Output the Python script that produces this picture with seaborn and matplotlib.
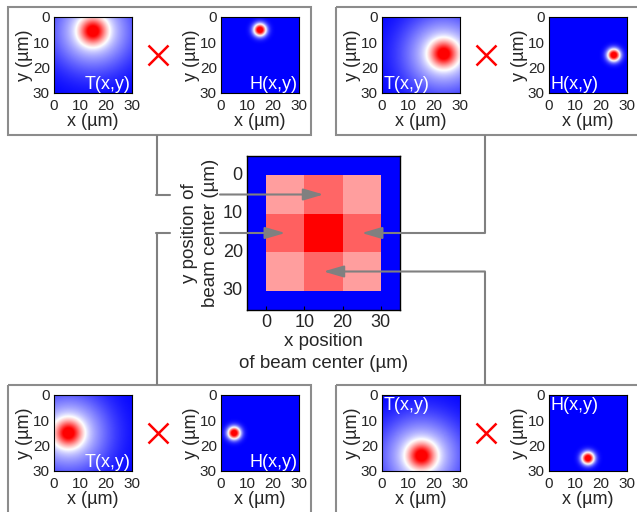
import numpy as np
import pandas as pd
import seaborn as sns
import matplotlib.pyplot as plt
from matplotlib.patches import Rectangle

sns.set_style("white")
plt.rcParams["font.family"] = ["Liberation Sans", "DejaVu Sans"]

# ---- data ----
# beam centre (um) for the four examples: top-left, top-right, bottom-left, bottom-right
beam_x = [15, 25, 5, 15]
beam_y = [5, 15, 15, 25]
# centre of the temperature spot T(x,y) (pushed a bit inward near the edge)
temp_x = [15, 23.5, 5.5, 15]
temp_y = [5.5, 14.5, 15, 24]
# corner where the T / H labels sit
label_spot = ["br", "bl", "br", "tl"]

# scanned map, 3x3 beam positions (colour value on bwr scale)
scan_vals = [[0.69, 0.80, 0.69],
             [0.81, 1.00, 0.81],
             [0.69, 0.80, 0.69]]
ticks = [0, 10, 20, 30]
cell = 10  # um per scan step

# spot shapes (amplitude, sigma in um)
t_core = (0.63, 3.45)
t_tail = (0.48, 11.0)
h_spot = (1.2, 1.75)

# ---- layout (pixels) ----
W, H = 637, 512
fig = plt.figure(figsize=(W / 100, H / 100), dpi=100)


def px_axes(left, top, w, h):
    return fig.add_axes([left / W, 1 - (top + h) / H, w / W, h / H])


box_origin = [(8, 7), (336, 7), (8, 385), (336, 385)]
gray = "#808080"

grid = np.linspace(0, 30, 151)
X, Y = np.meshgrid(grid, grid)


def gauss(cx, cy, amp, sig):
    return amp * np.exp(-((X - cx) ** 2 + (Y - cy) ** 2) / (2 * sig ** 2))


def small_panel(ax, field, label, spot):
    ax.imshow(np.clip(field, 0, 1), cmap="bwr", vmin=0, vmax=1,
              extent=[0, 30, 30, 0], aspect="auto", interpolation="bilinear")
    ax.set_xlim(0, 30)
    ax.set_ylim(30, 0)
    ax.set_xticks(ticks)
    ax.set_yticks(ticks)
    ax.tick_params(labelsize=11, length=0)
    ax.tick_params(axis="x", pad=4.5)
    ax.tick_params(axis="y", pad=3)
    ax.set_xlabel("x (µm)", fontsize=13, labelpad=0)
    ax.set_ylabel("y (µm)", fontsize=13, labelpad=0)
    for s in ax.spines.values():
        s.set_color("black")
        s.set_linewidth(0.8)
    if spot == "br":
        ax.text(29.5, 28.3, label, color="white", fontsize=13, ha="right", va="baseline")
    elif spot == "bl":
        ax.text(0.5, 28.3, label, color="white", fontsize=13, ha="left", va="baseline")
    else:
        ax.text(0.5, 0.8, label, color="white", fontsize=13, ha="left", va="top")


for i, (bx, by) in enumerate(box_origin):
    T = gauss(temp_x[i], temp_y[i], *t_core) + gauss(temp_x[i], temp_y[i], *t_tail)
    Hf = gauss(beam_x[i], beam_y[i], *h_spot)
    small_panel(px_axes(bx + 46, by + 10, 78, 76), T, "T(x,y)", label_spot[i])
    small_panel(px_axes(bx + 213, by + 10, 78, 76), Hf, "H(x,y)", label_spot[i])

# ---- centre scan map ----
ax = px_axes(247, 156, 153, 154)
df = pd.DataFrame(scan_vals)
sns.heatmap(df, ax=ax, cmap="bwr", vmin=0, vmax=1, cbar=False, linewidths=0)
ax.set_facecolor("#0000ff")
ax.set_xlim(-0.5, 3.5)
ax.set_ylim(3.5, -0.5)
ax.set_xticks(np.array(ticks) / cell)
ax.set_yticks(np.array(ticks) / cell)
ax.set_xticklabels(ticks, rotation=0)
ax.set_yticklabels(ticks, rotation=0)
ax.tick_params(labelsize=13, direction="in", length=3, color="black", pad=3,
               bottom=True, left=False)
for s in ax.spines.values():
    s.set_visible(True)
    s.set_color("black")
    s.set_linewidth(1)
ax.set_xlabel("x position\nof beam center (µm)", fontsize=13.5, linespacing=1.45, labelpad=1)
ax.set_ylabel("y position of\nbeam center (µm)", fontsize=13.5, linespacing=1.3, labelpad=3)

# ---- overlay: boxes, connectors, multiplication signs ----
ov = fig.add_axes([0, 0, 1, 1])
ov.set_xlim(0, W)
ov.set_ylim(H, 0)
ov.axis("off")

for bx, by in box_origin:
    ov.add_patch(Rectangle((bx, by), 303 if bx < 300 else 320, 128 if by < 300 else 140,
                           fill=False, edgecolor="#8c8c8c", lw=1.5))
    ov.plot(bx + 150, by + 48, marker="x", ms=15, mew=1.8, color="red")

conn_x = [157, 485, 157, 485]
conn_from = [135, 135, 385, 385]
arrow_start = [220, 485, 220, 485]

for i in range(4):
    tip = (beam_x[i] / cell, beam_y[i] / cell)
    yb = ov.transData.inverted().transform(ax.transData.transform(tip))[1]
    ov.plot([conn_x[i], conn_x[i]], [conn_from[i], yb], color=gray, lw=1.5,
            solid_capstyle="butt")
    if arrow_start[i] != conn_x[i]:
        ov.plot([conn_x[i] - 0.7, 170], [yb, yb], color=gray, lw=1.5)
    ax.annotate("", xy=tip, xycoords="data", xytext=(arrow_start[i], yb),
                textcoords=ov.transData,
                arrowprops=dict(arrowstyle="-|>,head_length=1.7,head_width=0.5",
                                color=gray, lw=1.5, shrinkA=0, shrinkB=0,
                                mutation_scale=7.2))

fig.savefig("out.png", dpi=100)
